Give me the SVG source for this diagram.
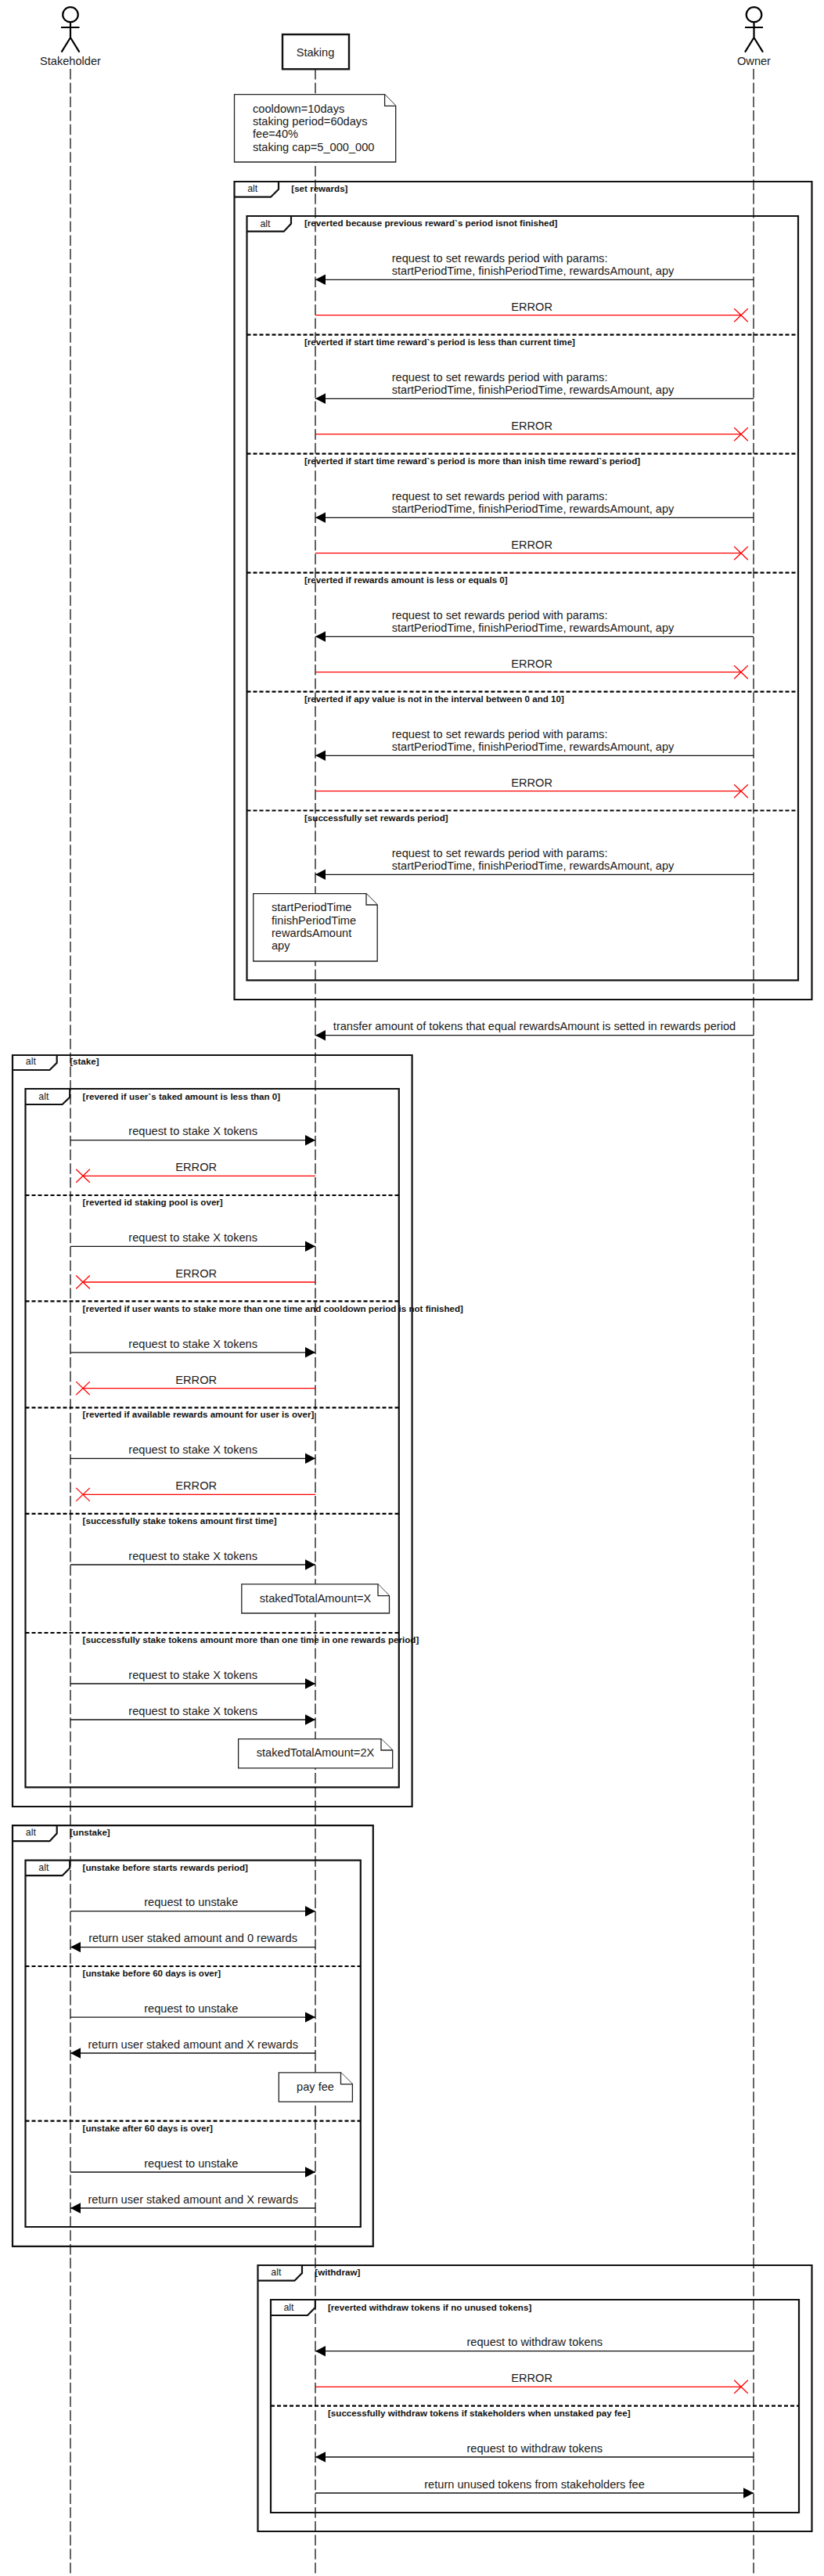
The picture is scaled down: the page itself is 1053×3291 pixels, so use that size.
<svg xmlns="http://www.w3.org/2000/svg" width="1053" height="3291" viewBox="0 0 1053 3291">
<style>
text{font-family:"Liberation Sans",Arial,sans-serif;fill:#1a1a1a}
.t{font-size:14.6px}
.c{font-size:14.6px;text-anchor:middle}
.g{font-size:11.6px;font-weight:bold;fill:#111}
.a{font-size:12.4px;text-anchor:middle}
.life{fill:none;stroke:#111;stroke-width:1.3;stroke-dasharray:13.5 4.2}
.m{fill:none;stroke:#111;stroke-width:1.3;marker-end:url(#arrow)}
.e{fill:none;stroke:#f00;stroke-width:1.3;marker-end:url(#cross)}
.f{fill:none;stroke:#111;stroke-width:2.2}
.d{fill:none;stroke:#000;stroke-width:2.2;stroke-dasharray:5 3}
.n{fill:#fff;stroke:#222;stroke-width:1.3}
.ac{fill:none;stroke:#000;stroke-width:2.2}
</style>
<defs>
<marker id="arrow" markerUnits="userSpaceOnUse" markerWidth="15" markerHeight="16" refX="14" refY="8" orient="auto"><path d="M1 1.3L14 8L1 14.7z" fill="#000"/></marker>
<marker id="cross" markerUnits="userSpaceOnUse" markerWidth="20" markerHeight="20" refX="10" refY="10" orient="auto"><path d="M1.2 1.5L18.8 18.5M1.2 18.5L18.8 1.5" fill="none" stroke="#f00" stroke-width="1.3"/></marker>
</defs>

<g id="connectors">
<path class="life" d="M90 88V3288"/>
<path class="life" d="M403 88V3288"/>
<path class="life" d="M963 88V3288"/>

<path class="m" d="M963 357.3H403"/><text class="t" x="500.7" y="335">request to set rewards period with params:</text><text class="t" x="500.7" y="351">startPeriodTime, finishPeriodTime, rewardsAmount, apy</text>
<path class="e" d="M403 402.7H947"/><text class="c" x="679.6" y="397">ERROR</text>

<path class="m" d="M963 509.3H403"/><text class="t" x="500.7" y="487">request to set rewards period with params:</text><text class="t" x="500.7" y="503">startPeriodTime, finishPeriodTime, rewardsAmount, apy</text>
<path class="e" d="M403 554.7H947"/><text class="c" x="679.6" y="549">ERROR</text>

<path class="m" d="M963 661.3H403"/><text class="t" x="500.7" y="639">request to set rewards period with params:</text><text class="t" x="500.7" y="655">startPeriodTime, finishPeriodTime, rewardsAmount, apy</text>
<path class="e" d="M403 706.7H947"/><text class="c" x="679.6" y="701">ERROR</text>

<path class="m" d="M963 813.3H403"/><text class="t" x="500.7" y="791">request to set rewards period with params:</text><text class="t" x="500.7" y="807">startPeriodTime, finishPeriodTime, rewardsAmount, apy</text>
<path class="e" d="M403 858.7H947"/><text class="c" x="679.6" y="853">ERROR</text>

<path class="m" d="M963 965.3H403"/><text class="t" x="500.7" y="943">request to set rewards period with params:</text><text class="t" x="500.7" y="959">startPeriodTime, finishPeriodTime, rewardsAmount, apy</text>
<path class="e" d="M403 1010.7H947"/><text class="c" x="679.6" y="1005">ERROR</text>

<path class="m" d="M963 1117.3H403"/><text class="t" x="500.7" y="1095">request to set rewards period with params:</text><text class="t" x="500.7" y="1111">startPeriodTime, finishPeriodTime, rewardsAmount, apy</text>

<path class="m" d="M963 1322.7H403"/><text class="c" x="683" y="1316">transfer amount of tokens that equal rewardsAmount is setted in rewards period</text>

<path class="m" d="M90 1456.7H403"/><text class="c" x="246.7" y="1450">request to stake X tokens</text>
<path class="e" d="M403 1502.3H106"/><text class="c" x="250.7" y="1496">ERROR</text>
<path class="m" d="M90 1592.3H403"/><text class="c" x="246.7" y="1586">request to stake X tokens</text>
<path class="e" d="M403 1638H106"/><text class="c" x="250.7" y="1632">ERROR</text>
<path class="m" d="M90 1727.8H403"/><text class="c" x="246.7" y="1721.5">request to stake X tokens</text>
<path class="e" d="M403 1773.6H106"/><text class="c" x="250.7" y="1767.5">ERROR</text>
<path class="m" d="M90 1863.3H403"/><text class="c" x="246.7" y="1857">request to stake X tokens</text>
<path class="e" d="M403 1909.4H106"/><text class="c" x="250.7" y="1903">ERROR</text>
<path class="m" d="M90 1999H403"/><text class="c" x="246.7" y="1993">request to stake X tokens</text>
<path class="m" d="M90 2151H403"/><text class="c" x="246.7" y="2145">request to stake X tokens</text>
<path class="m" d="M90 2197H403"/><text class="c" x="246.7" y="2190.5">request to stake X tokens</text>

<path class="m" d="M90 2441.7H403"/><text class="c" x="244.3" y="2435">request to unstake</text>
<path class="m" d="M403 2487.6H90"/><text class="c" x="246.6" y="2481">return user staked amount and 0 rewards</text>
<path class="m" d="M90 2577.1H403"/><text class="c" x="244.3" y="2571">request to unstake</text>
<path class="m" d="M403 2623H90"/><text class="c" x="246.7" y="2617">return user staked amount and X rewards</text>
<path class="m" d="M90 2775H403"/><text class="c" x="244.3" y="2769">request to unstake</text>
<path class="m" d="M403 2821H90"/><text class="c" x="246.7" y="2814.5">return user staked amount and X rewards</text>

<path class="m" d="M963 3003.7H403"/><text class="c" x="683.3" y="2997">request to withdraw tokens</text>
<path class="e" d="M403 3049.3H947"/><text class="c" x="679.6" y="3043">ERROR</text>
<path class="m" d="M963 3139H403"/><text class="c" x="683.3" y="3133">request to withdraw tokens</text>
<path class="m" d="M403 3185H963"/><text class="c" x="683" y="3179">return unused tokens from stakeholders fee</text>
</g>

<g id="frame-set-rewards">
<path class="f" d="M299.5 232H1037.5V1277H299.5z"/>
<path class="f" d="M299.5 251.7H346L356 241.7V232"/>
<text class="a" x="322.7" y="245">alt</text><text class="g" x="372.3" y="244.7">[set rewards]</text>
</g>
<g id="frame-set-rewards-inner">
<path class="f" d="M315.5 276H1020V1252.3H315.5z"/>
<path class="f" d="M315.5 295.7H362.7L372 285.7V276"/>
<text class="a" x="339" y="289.5">alt</text><text class="g" x="389" y="289">[reverted because previous reward`s period isnot finished]</text>
<path class="d" d="M315.5 427.7H1020"/><text class="g" x="389" y="441">[reverted if start time reward`s period is less than current time]</text>
<path class="d" d="M315.5 579.7H1020"/><text class="g" x="389" y="593">[reverted if start time reward`s period is more than inish time reward`s period]</text>
<path class="d" d="M315.5 731.7H1020"/><text class="g" x="389" y="745">[reverted if rewards amount is less or equals 0]</text>
<path class="d" d="M315.5 883.7H1020"/><text class="g" x="389" y="897">[reverted if apy value is not in the interval between 0 and 10]</text>
<path class="d" d="M315.5 1035.5H1020"/><text class="g" x="389" y="1048.5">[successfully set rewards period]</text>
</g>

<g id="frame-stake">
<path class="f" d="M16 1348H526.6V2308H16z"/>
<path class="f" d="M16 1367H63.5L72.7 1357.7V1348"/>
<text class="a" x="39.4" y="1360">alt</text><text class="g" x="89.2" y="1360">[stake]</text>
</g>
<g id="frame-stake-inner">
<path class="f" d="M32.5 1391H509.8V2283.3H32.5z"/>
<path class="f" d="M32.5 1411H79.6L89.2 1401.7V1391"/>
<text class="a" x="55.9" y="1405">alt</text><text class="g" x="105.6" y="1405">[revered if user`s taked amount is less than 0]</text>
<path class="d" d="M32.5 1527H509.8"/><text class="g" x="105.6" y="1540">[reverted id staking pool is over]</text>
<path class="d" d="M32.5 1662.3H509.8"/><text class="g" x="105.6" y="1676">[reverted if user wants to stake more than one time and cooldown period is not finished]</text>
<path class="d" d="M32.5 1798.3H509.8"/><text class="g" x="105.6" y="1810.8">[reverted if available rewards amount for user is over]</text>
<path class="d" d="M32.5 1933.8H509.8"/><text class="g" x="105.6" y="1946.8">[successfully stake tokens amount first time]</text>
<path class="d" d="M32.5 2086H509.8"/><text class="g" x="105.6" y="2099">[successfully stake tokens amount more than one time in one rewards period]</text>
</g>

<g id="frame-unstake">
<path class="f" d="M16 2332.2H476.8V2869.8H16z"/>
<path class="f" d="M16 2352.2H63.5L72.7 2342.2V2332.2"/>
<text class="a" x="39.4" y="2345">alt</text><text class="g" x="89.2" y="2345">[unstake]</text>
</g>
<g id="frame-unstake-inner">
<path class="f" d="M32.5 2376.6H460.8V2845H32.5z"/>
<path class="f" d="M32.5 2396.2H79.6L89.2 2386.6V2376.6"/>
<text class="a" x="55.9" y="2390">alt</text><text class="g" x="105.6" y="2390">[unstake before starts rewards period]</text>
<path class="d" d="M32.5 2512H460.8"/><text class="g" x="105.6" y="2525">[unstake before 60 days is over]</text>
<path class="d" d="M32.5 2709.6H460.8"/><text class="g" x="105.6" y="2722.6">[unstake after 60 days is over]</text>
</g>

<g id="frame-withdraw">
<path class="f" d="M329.5 2894H1037.5V3234H329.5z"/>
<path class="f" d="M329.5 2913.7H376.4L386 2904V2894"/>
<text class="a" x="352.8" y="2907">alt</text><text class="g" x="402.3" y="2907">[withdraw]</text>
</g>
<g id="frame-withdraw-inner">
<path class="f" d="M346 2938H1021V3210H346z"/>
<path class="f" d="M346 2958H393L402.8 2948V2938"/>
<text class="a" x="369" y="2952">alt</text><text class="g" x="419" y="2952">[reverted withdraw tokens if no unused tokens]</text>
<path class="d" d="M346 3073.7H1021"/><text class="g" x="419" y="3087">[successfully withdraw tokens if stakeholders when unstaked pay fee]</text>
</g>

<g id="note-params">
<path class="n" d="M299.5 120.7H491.6L505.7 135.3V207H299.5z"/><path class="n" d="M491.6 120.7V135.3H505.7"/>
<text class="t" x="323" y="144">cooldown=10days</text><text class="t" x="323" y="160">staking period=60days</text><text class="t" x="323" y="176">fee=40%</text><text class="t" x="323" y="193">staking cap=5_000_000</text>
</g>
<g id="note-rewards">
<path class="n" d="M323.7 1141.7H468L482.2 1156V1228H323.7z"/><path class="n" d="M468 1141.7V1156H482.2"/>
<text class="t" x="347" y="1164">startPeriodTime</text><text class="t" x="347" y="1180.5">finishPeriodTime</text><text class="t" x="347" y="1197">rewardsAmount</text><text class="t" x="347" y="1213">apy</text>
</g>
<g id="note-staked-x">
<path class="n" d="M308.8 2023.8H483L497.5 2038.7V2061H308.8z"/><path class="n" d="M483 2023.8V2038.7H497.5"/>
<text class="c" x="403" y="2046.6">stakedTotalAmount=X</text>
</g>
<g id="note-staked-2x">
<path class="n" d="M304.6 2221.6H487L501.7 2236V2258.9H304.6z"/><path class="n" d="M487 2221.6V2236H501.7"/>
<text class="c" x="403" y="2243.6">stakedTotalAmount=2X</text>
</g>
<g id="note-fee">
<path class="n" d="M356.3 2647.8H435.5L450.4 2662.6V2685.2H356.3z"/><path class="n" d="M435.5 2647.8V2662.6H450.4"/>
<text class="c" x="403" y="2671">pay fee</text>
</g>

<g id="actor-stakeholder">
<ellipse class="ac" cx="90" cy="18.7" rx="9.8" ry="9.5"/>
<path class="ac" d="M90 28.2V48M78 35H101.5M90 48L78.5 66.7M90 48L101.5 66.7"/>
<text class="c" x="90" y="83">Stakeholder</text>
</g>
<g id="node-staking">
<rect x="361" y="44" width="85" height="44.3" fill="#fff" stroke="#111" stroke-width="2.4"/>
<text class="c" x="403" y="72">Staking</text>
</g>
<g id="actor-owner">
<ellipse class="ac" cx="963.5" cy="18.7" rx="9.8" ry="9.5"/>
<path class="ac" d="M963.5 28.2V48M952 35H975M963.5 48L952 66.7M963.5 48L975 66.7"/>
<text class="c" x="963.5" y="83">Owner</text>
</g>
</svg>
